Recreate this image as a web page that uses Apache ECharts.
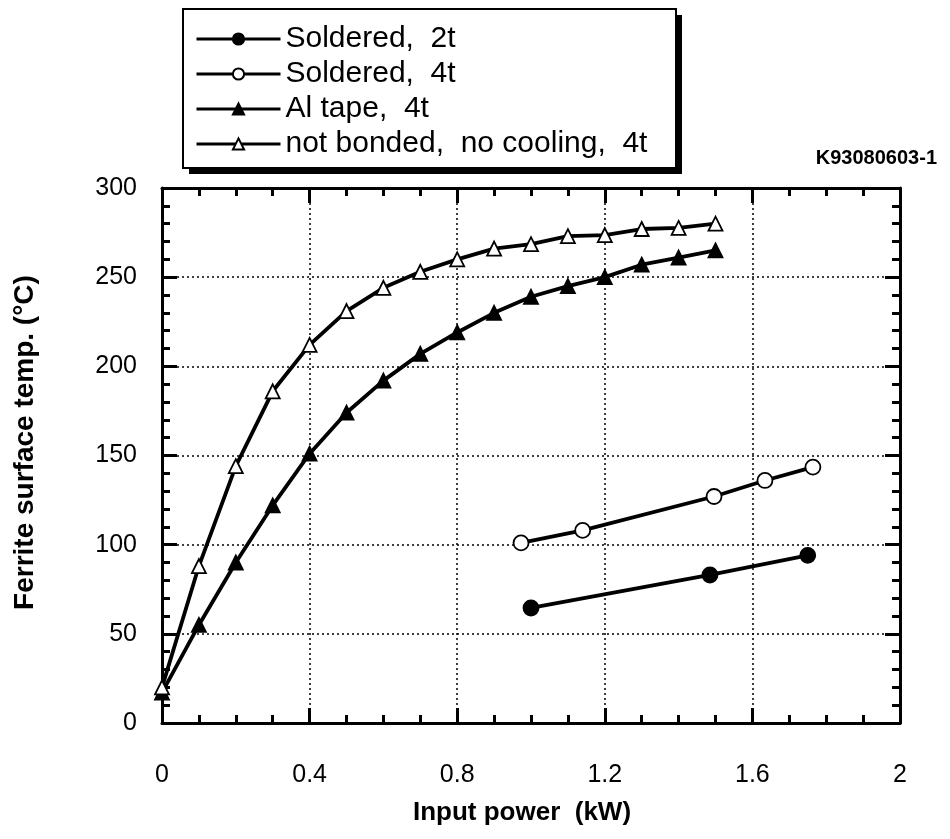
<!DOCTYPE html>
<html>
<head>
<meta charset="utf-8">
<script src="https://cdn.jsdelivr.net/npm/echarts@6/dist/echarts.min.js"></script>
<style>html,body{margin:0;padding:0;background:#fff;}#c{width:950px;height:839px;}</style>
</head>
<body>
<div id="c"></div>
<script>
// ---- data ----
const seriesNames = ['Soldered,  2t', 'Soldered,  4t', 'Al tape,  4t', 'not bonded,  no cooling,  4t'];
const soldered2tX = [1.0, 1.485, 1.75];
const soldered2tY = [64.5, 83, 94];
const soldered4tX = [0.973, 1.14, 1.496, 1.634, 1.764];
const soldered4tY = [101, 108, 127, 136, 143.5];
const powerX = [0, 0.1, 0.2, 0.3, 0.4, 0.5, 0.6, 0.7, 0.8, 0.9, 1.0, 1.1, 1.2, 1.3, 1.4, 1.5];
const alTapeY = [17, 55, 90, 122, 151, 174, 192, 207, 219, 230, 239, 245, 250, 257, 261, 265];
const notBondedY = [20, 88, 144, 186, 212, 231, 244, 253, 260, 266, 268.5, 273, 273.6, 277, 277.6, 280];
const xTickValues = [0, 0.4, 0.8, 1.2, 1.6, 2];
const yTickValues = [0, 50, 100, 150, 200, 250, 300];
const figureId = 'K93080603-1';

const pairs = (xs, ys) => xs.map((x, i) => [x, ys[i]]);
const FONT = '"Liberation Sans", Arial, Helvetica, sans-serif';

const chart = echarts.init(document.getElementById('c'));

const axisCommon = {
  axisLine: { onZero: false, lineStyle: { color: '#000', width: 3 } },
  axisTick: { inside: true, length: 15, lineStyle: { color: '#000', width: 3 } },
  minorTick: { show: true, length: 8, lineStyle: { color: '#000', width: 3 } }
};

function mkSeries(name, data, symbol, filled, size) {
  return {
    name: name, type: 'line', data: data,
    xAxisIndex: 0, yAxisIndex: 0,
    symbol: symbol, symbolSize: size, showSymbol: true,
    lineStyle: { color: '#000', width: 3.8 },
    itemStyle: { color: filled ? '#000' : '#fff', borderColor: '#000', borderWidth: 1.8 },
    emphasis: { disabled: true },
    z: 3
  };
}

const option = {
  backgroundColor: '#fff',
  animation: false,
  graphic: [
    // legend frame with drop shadow (decoration only)
    { type: 'rect', z: 0, shape: { x: 189, y: 15, width: 493, height: 159 }, style: { fill: '#000' } },
    { type: 'rect', z: 1, shape: { x: 183, y: 9, width: 493, height: 159 }, style: { fill: '#fff', stroke: '#000', lineWidth: 2 } }
  ],
  title: {
    text: figureId, right: 8, top: 143,
    textStyle: { fontFamily: FONT, fontSize: 20, fontWeight: 'bold', color: '#000' }
  },
  legend: {
    orient: 'vertical', left: 195, top: 24,
    padding: 0,
    itemGap: 5, itemWidth: 84, itemHeight: 14,
    lineStyle: { width: 3, color: '#000' },
    textStyle: { fontFamily: FONT, fontSize: 30, color: '#000' },
    data: seriesNames
  },
  grid: { left: 162, right: 50, top: 188, bottom: 116, containLabel: false },
  xAxis: [
    Object.assign({}, axisCommon, {
      type: 'value', position: 'bottom', min: 0, max: 2, interval: 0.4,
      minorTick: Object.assign({}, axisCommon.minorTick, { splitNumber: 4 }),
      axisLabel: {
        margin: 40, fontFamily: FONT, fontSize: 25, color: '#000',
        formatter: v => { const t = xTickValues.find(s => Math.abs(s - v) < 1e-6); return t === undefined ? '' : String(t); }
      },
      splitLine: { show: true, lineStyle: { color: '#000', type: [2, 3], width: 1.5 } },
      name: 'Input power  (kW)', nameLocation: 'middle', nameGap: 77,
      nameTextStyle: { fontFamily: FONT, fontSize: 26, fontWeight: 'bold', color: '#000', padding: [0, 18, 0, 0] }
    }),
    Object.assign({}, axisCommon, {
      type: 'value', position: 'top', min: 0, max: 2, interval: 0.4,
      minorTick: Object.assign({}, axisCommon.minorTick, { splitNumber: 4 }),
      axisLabel: { show: false }, splitLine: { show: false }
    })
  ],
  yAxis: [
    Object.assign({}, axisCommon, {
      type: 'value', position: 'left', min: 0, max: 300, interval: 50,
      minorTick: Object.assign({}, axisCommon.minorTick, { splitNumber: 5 }),
      axisLabel: {
        margin: 25, fontFamily: FONT, fontSize: 25, color: '#000',
        formatter: v => String(yTickValues.find(s => Math.abs(s - v) < 1e-6))
      },
      splitLine: { show: true, lineStyle: { color: '#000', type: [2, 3], width: 1.5 } },
      name: 'Ferrite surface temp. (°C)', nameLocation: 'middle', nameGap: 123, nameRotate: 90,
      nameTextStyle: { fontFamily: FONT, fontSize: 28, fontWeight: 'bold', color: '#000', padding: [0, 0, 0, 26] }
    }),
    Object.assign({}, axisCommon, {
      type: 'value', position: 'right', min: 0, max: 300, interval: 50,
      minorTick: Object.assign({}, axisCommon.minorTick, { splitNumber: 5 }),
      axisLabel: { show: false }, splitLine: { show: false }
    })
  ],
  series: [
    mkSeries(seriesNames[0], pairs(soldered2tX, soldered2tY), 'circle', true, 15),
    mkSeries(seriesNames[1], pairs(soldered4tX, soldered4tY), 'circle', false, 15),
    mkSeries(seriesNames[2], pairs(powerX, alTapeY), 'triangle', true, 14),
    mkSeries(seriesNames[3], pairs(powerX, notBondedY), 'triangle', false, 14)
  ]
};
chart.setOption(option);
</script>
</body>
</html>
